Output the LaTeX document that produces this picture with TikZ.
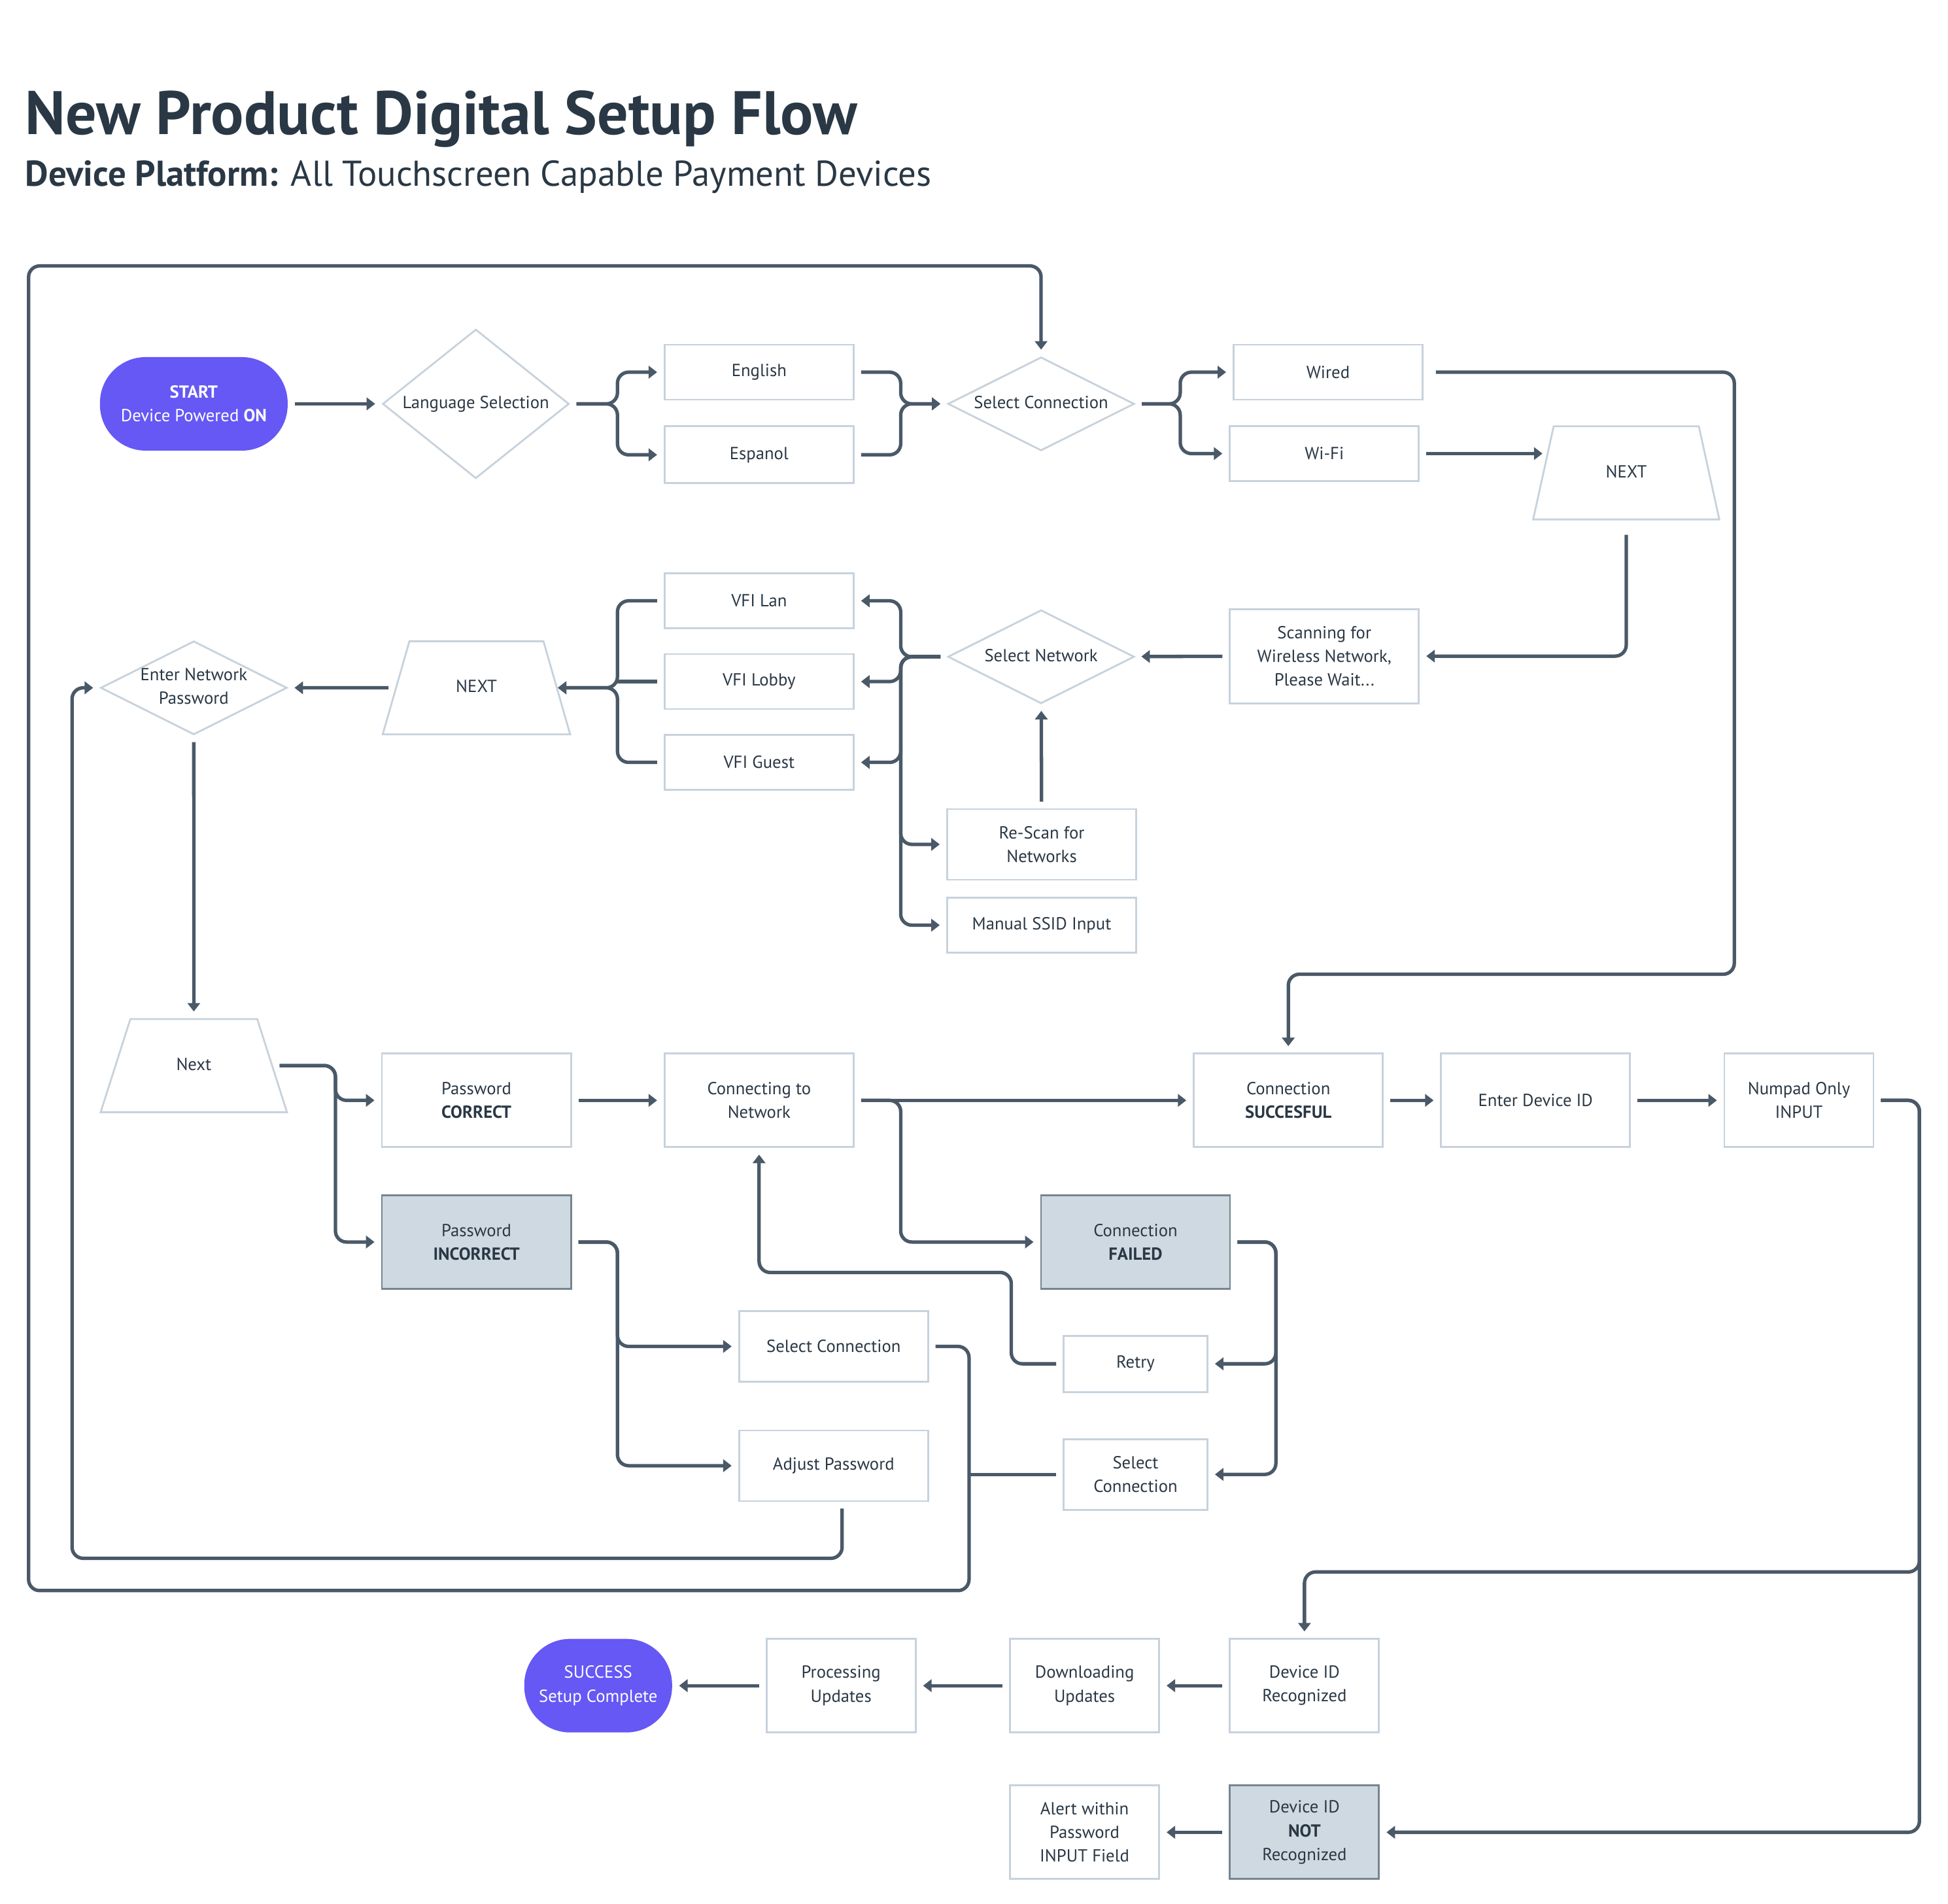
\documentclass[tikz,border=0pt]{standalone}
\usepackage{fontspec}
\setmainfont{PT Sans}
\usetikzlibrary{arrows.meta,positioning,shapes.geometric}
\definecolor{linec}{HTML}{4A5968}
\definecolor{boxl}{HTML}{C7D2DC}
\definecolor{badf}{HTML}{CFD9E1}
\definecolor{badl}{HTML}{76858F}
\definecolor{textc}{HTML}{2A3845}
\definecolor{startc}{HTML}{6558F5}
\newcommand{\boxfont}{\fontsize{7.6}{10.3}\selectfont}
\newcommand{\dlabel}[1]{\makebox[0pt]{\begin{tabular}{@{}c@{}}#1\end{tabular}}}
\tikzset{
  ar/.style={-{Triangle[length=1.3mm,width=1.9mm]},line width=1.5pt,linec,rounded corners=0.17cm,shorten >=0.1cm,shorten <=0.1cm},
  ln/.style={line width=1.5pt,linec,rounded corners=0.17cm,shorten <=0.1cm},
  box/.style={draw=boxl,line width=0.8pt,fill=white,text=textc,font=\boxfont,align=center,inner sep=2pt,minimum width=2.89cm,minimum height=0.84cm},
  badbox/.style={box,draw=badl,fill=badf},
  tall/.style={minimum height=1.43cm},
  mid/.style={minimum height=1.08cm},
  narrow/.style={minimum width=2.28cm},
  pill/.style={fill=startc,text=white,font=\boxfont,align=center,rounded corners=0.7cm,minimum height=1.43cm},
  dia/.style={diamond,draw=boxl,line width=0.8pt,fill=white,text=textc,font=\boxfont,inner sep=0pt,minimum width=2.85cm,minimum height=1.43cm},
  trap/.style={trapezium,draw=boxl,line width=0.8pt,fill=white,text=textc,font=\boxfont,align=center,inner xsep=0pt,inner ysep=0.531cm,text height=7.2pt,text depth=3.1pt}
}
\begin{document}
\begin{tikzpicture}[x=0.019cm,y=-0.019cm]
\useasboundingbox (0,0) rectangle (1568,1532);
% title
\node[anchor=base west,inner sep=0,text=textc,font=\fontsize{26.7}{30}\selectfont\bfseries] (title) at (20,108) {New Product Digital Setup Flow};
\node[anchor=base west,inner sep=0,text=textc,font=\fontsize{15.6}{18}\selectfont] (subtitle) at (20,150) {\textbf{Device Platform:} All Touchscreen Capable Payment Devices};
% row 1
\node[pill,minimum width=2.87cm] (start) at (156,325) {\textbf{START}\\Device Powered \textbf{ON}};
\node[dia,minimum height=2.28cm] (lang) at (383,325) {\dlabel{Language Selection}};
\node[box] (eng) at (611,299.5) {English};
\node[box,minimum height=0.87cm] (esp) at (611,366) {Espanol};
\node[dia] (selcon) at (838,325) {\dlabel{Select Connection}};
\node[box] (wired) at (1069,299.5) {Wired};
\node[box] (wifi) at (1066,365) {Wi-Fi};
\node[trap,trapezium angle=77.6,text width=2.22cm] (nextA) at (1309,380.5) {NEXT};
% row 2
\node[box,minimum height=1.44cm] (scan) at (1066,528) {Scanning for\\Wireless Network,\\Please Wait...};
\node[dia] (selnet) at (838,528.5) {\dlabel{Select Network}};
\node[box] (lan) at (611,483.5) {VFI Lan};
\node[box] (lobby) at (611,548.5) {VFI Lobby};
\node[box] (guest) at (611,613.5) {VFI Guest};
\node[box,mid] (rescan) at (838.5,679.5) {Re-Scan for\\Networks};
\node[box] (manual) at (838.5,744.5) {Manual SSID Input};
\node[trap,trapezium angle=74,text width=2.05cm] (nextB) at (383.5,553.5) {NEXT};
\node[dia] (enterpw) at (156,553.5) {\dlabel{Enter Network\\Password}};
% row 3
\node[trap,trapezium angle=72.3,text width=1.94cm] (nextC) at (156,857.5) {Next};
\node[box,tall] (pwok) at (383.5,885.5) {Password\\\textbf{CORRECT}};
\node[box,tall] (connecting) at (611,885.5) {Connecting to\\Network};
\node[box,tall] (consuccess) at (1037,885.5) {Connection\\\textbf{SUCCESFUL}};
\node[box,tall] (devid) at (1236,885.5) {Enter Device ID};
\node[box,tall,narrow] (numpad) at (1448,885.5) {Numpad Only\\INPUT};
\node[badbox,tall] (pwbad) at (383.5,999.5) {Password\\\textbf{INCORRECT}};
\node[badbox,tall] (confail) at (914,999.5) {Connection\\\textbf{FAILED}};
\node[box,mid] (selconB) at (671,1083.5) {Select Connection};
\node[box,mid] (adjust) at (671,1179.5) {Adjust Password};
\node[box,minimum width=2.2cm,minimum height=0.86cm] (retry) at (914,1097.5) {Retry};
\node[box,mid,minimum width=2.2cm] (selconC) at (914,1186.5) {Select\\Connection};
% row 4
\node[pill,minimum width=2.26cm] (success) at (481.5,1356.5) {SUCCESS\\Setup Complete};
\node[box,tall,narrow] (procupd) at (677,1356.5) {Processing\\Updates};
\node[box,tall,narrow] (dlupd) at (873,1356.5) {Downloading\\Updates};
\node[box,tall,narrow] (idok) at (1050,1356.5) {Device ID\\Recognized};
\node[box,tall,narrow] (alert) at (873,1474.5) {Alert within\\Password\\INPUT Field};
\node[badbox,tall,narrow] (idbad) at (1050,1474.5) {Device ID\\\textbf{NOT}\\Recognized};
\coordinate (vfijoin) at (497,548.5);
\coordinate (jn) at (780,1186.5);
% connectors
\draw[ar] (start) -- (lang);
\draw[ar] (lang.east) -- (497,325) |- (eng.west);
\draw[ar] (lang.east) -- (497,325) |- (esp.west);
\draw[ar] (eng.east) -| (725,325) -- (selcon.west);
\draw[ar] (esp.east) -| (725,325) -- (selcon.west);
\draw[ar] (selcon.east) -- (950,325) |- (wired.west);
\draw[ar] (selcon.east) -- (950,325) |- (wifi.west);
\draw[ar,shorten <=0.19cm] (wired.east) -| (1396,784) -| (consuccess.north);
\draw[ar,shorten >=0pt] (wifi.east) -- (wifi.east -| nextA.west);
\draw[ar,shorten <=0.22cm] (nextA.south) |- (scan.east);
\draw[ar] (scan) -- (selnet);
\draw[ar] (rescan) -- (selnet);
\draw[ar] (selnet.west) -- (725,528.5) |- (lan.east);
\draw[ar] (selnet.west) -- (725,528.5) |- (lobby.east);
\draw[ar] (selnet.west) -- (725,528.5) |- (guest.east);
\draw[ar] (selnet.west) -- (725,528.5) |- (rescan.west);
\draw[ar] (selnet.west) -- (725,528.5) |- (manual.west);
\draw[ar,shorten >=0pt] (lan.west) -| (497,553.5) -- (nextB.east);
\draw[ar,shorten >=0pt] (guest.west) -| (497,553.5) -- (nextB.east);
\draw[ln] (lobby.west) -- (vfijoin);
\draw[ar] (nextB) -- (enterpw);
\draw[ar] (enterpw) -- (nextC);
\draw[ar] (nextC.east) -- (270,857.5) |- (pwok.west);
\draw[ar] (nextC.east) -- (270,857.5) |- (pwbad.west);
\draw[ar] (pwok) -- (connecting);
\draw[ar] (connecting) -- (consuccess);
\draw[ar] (connecting.east) -- (725,885.5) |- (confail.west);
\draw[ar] (consuccess) -- (devid);
\draw[ar] (devid) -- (numpad);
\draw[ar] (pwbad.east) -- (497,999.5) |- (selconB.west);
\draw[ar] (pwbad.east) -- (497,999.5) |- (adjust.west);
\draw[ar] (confail.east) -- (1027,999.5) |- (retry.east);
\draw[ar] (confail.east) -- (1027,999.5) |- (selconC.east);
\draw[ar] (retry.west) -| (814,1024) -| (connecting.south);
\draw[ar] ([xshift=0.13cm]adjust.south) |- (58,1254) |- (enterpw.west);
\draw[ar] (selconB.east) -| (780,1280) -| (23,214) -| (selcon.north);
\draw[ln] (selconC.west) -- (jn);
\draw[ar] (numpad.east) -| (1545,1265) -| (idok.north);
\draw[ar] (numpad.east) -| (1545,1474.5) -- (idbad.east);
\draw[ar] (idok) -- (dlupd);
\draw[ar] (dlupd) -- (procupd);
\draw[ar] (procupd) -- (success);
\draw[ar] (idbad) -- (alert);
\end{tikzpicture}
\end{document}
